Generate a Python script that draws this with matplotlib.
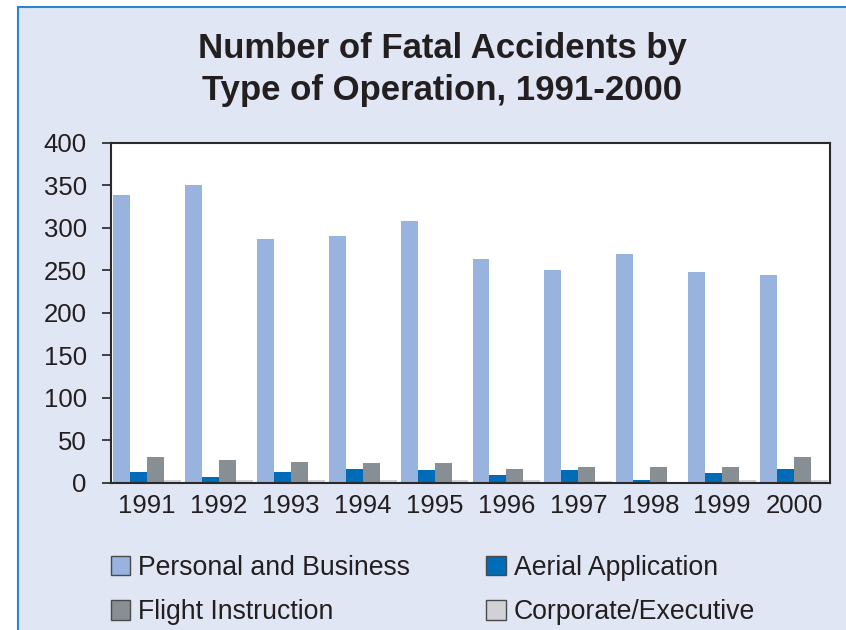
import numpy as np
import matplotlib
matplotlib.use('Agg')
import matplotlib.pyplot as plt
from matplotlib.patches import Patch, Rectangle

plt.rcParams['font.family'] = ['Liberation Sans', 'DejaVu Sans']

years = ['1991', '1992', '1993', '1994', '1995', '1996', '1997', '1998', '1999', '2000']
personal = [339, 350, 287, 290, 308, 263, 250, 269, 248, 245]
aerial = [13, 7, 13, 17, 15, 9, 15, 4, 12, 17]
flight = [30, 27, 25, 23, 23, 17, 19, 19, 19, 30]
corporate = [4, 4, 4, 4, 4, 4, 2, 0, 4, 4]

series = [
    ('Personal and Business', personal, '#98B3DE'),
    ('Aerial Application', aerial, '#006BB6'),
    ('Flight Instruction', flight, '#878E94'),
    ('Corporate/Executive', corporate, '#D0D2D6'),
]

bg = '#E1E6F4'
ink = '#231F20'

fig = plt.figure(figsize=(8.46, 6.3), dpi=100, facecolor='white')
# light blue panel with blue frame on top/left
fig.patches.append(Rectangle((18.3 / 846, -0.05), 1.2, 1 - 6.7 / 630 + 0.05,
                             transform=fig.transFigure, facecolor=bg,
                             edgecolor='#2A84D2', lw=1.5, zorder=-5))

ax = fig.add_axes([111 / 846, 1 - 483 / 630, (830 - 111) / 846, (483 - 142.7) / 630])
ax.set_facecolor('white')

x = np.arange(len(years))
w = 0.236
for i, (name, vals, col) in enumerate(series):
    ax.bar(x + (i - 1.5) * w, vals, width=w, color=col, linewidth=0, zorder=2)

ax.set_xlim(-0.5, len(years) - 0.5)
ax.set_ylim(0, 400)
ax.set_yticks(range(0, 401, 50))
ax.set_xticks(x)
ax.set_xticklabels(years)
ax.tick_params(axis='y', length=6.5, width=1.3, color='#333333', pad=11,
               labelsize=18.5, labelcolor=ink)
ax.tick_params(axis='x', length=0, pad=8, labelsize=18.5, labelcolor=ink)
for s in ax.spines.values():
    s.set_color('#2A2A2A')
    s.set_linewidth(1.5)

fig.text(442 / 846, 1 - 58.3 / 630, 'Number of Fatal Accidents by',
         ha='center', va='baseline', fontsize=25, fontweight='bold', color=ink)
fig.text(442 / 846, 1 - 100 / 630, 'Type of Operation, 1991-2000',
         ha='center', va='baseline', fontsize=25, fontweight='bold', color=ink)

handles = [Patch(facecolor=c, edgecolor='#4A4A4A', linewidth=1.0) for _, _, c in series]
labels = [n for n, _, _ in series]
order = [0, 2, 1, 3]
fig.legend([handles[k] for k in order], [labels[k] for k in order], ncol=2,
           loc='upper left', bbox_to_anchor=(111 / 846, 1 - 555 / 630),
           frameon=False, fontsize=19.2, handlelength=0.73, handleheight=0.73,
           handletextpad=0.3, columnspacing=2.85, labelspacing=0.69,
           borderpad=0, borderaxespad=0, labelcolor=ink)

fig.savefig('out.png', dpi=100, facecolor=fig.get_facecolor())
